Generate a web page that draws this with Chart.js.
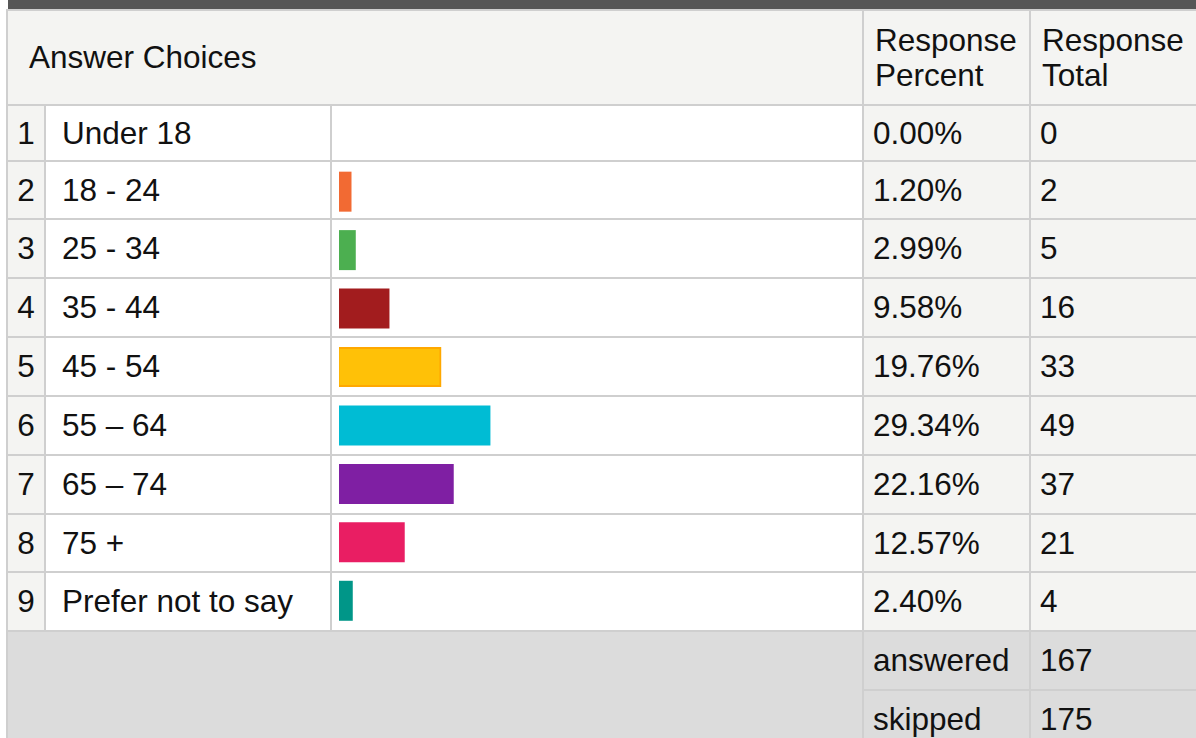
<!DOCTYPE html>
<html>
<head>
<meta charset="utf-8">
<script src="https://cdn.jsdelivr.net/npm/chart.js@4/dist/chart.umd.min.js"></script>
<style>
  html, body { margin: 0; padding: 0; background: #fff; overflow: hidden; }
  body { width: 1196px; height: 738px; position: relative; font-family: Arial, "Liberation Sans", Helvetica, sans-serif; color: #111; }
  #topbar { position: absolute; left: 8px; top: 0; width: 1188px; height: 9px; background: #565656; }
  table { position: absolute; left: 6px; top: 9px; width: 1200px; border-collapse: collapse; table-layout: fixed; font-size: 31.5px; }
  td { border: 2px solid #cfcfcf; padding: 0; vertical-align: middle; white-space: nowrap; overflow: hidden; }
  .hd { background: #f4f4f2; }
  .hd .choices { padding-left: 21px; }
  .hd .resp { padding-left: 11px; line-height: 35px; }
  .num { background: #f4f4f2; text-align: center; }
  .lab { background: #fff; padding-left: 16px; }
  .bar { background: #fff; }
  .pct, .tot { background: #f4f4f2; padding-left: 9px; }
  .foot td { background: #dcdcdc; }
  .foot .pct, .foot .tot { padding-left: 9px; }
  #wrap { position: absolute; left: 331px; top: 104px; width: 532px; height: 526px; }
</style>
</head>
<body>
<div id="topbar"></div>
<table id="tbl">
  <colgroup>
    <col style="width:38px"><col style="width:286px"><col style="width:532px"><col style="width:167px"><col style="width:177px">
  </colgroup>
  <tbody id="tbody">
    <tr class="hd" style="height:95px">
      <td colspan="3" class="choices">Answer Choices</td>
      <td class="resp">Response<br>Percent</td>
      <td class="resp">Response<br>Total</td>
    </tr>
  </tbody>
</table>
<div id="wrap"><canvas id="bars" width="532" height="526"></canvas></div>
<script>
// survey data
const choices = ['Under 18', '18 - 24', '25 - 34', '35 - 44', '45 - 54', '55 \u2013 64', '65 \u2013 74', '75 +', 'Prefer not to say'];
const percents = [0.00, 1.20, 2.99, 9.58, 19.76, 29.34, 22.16, 12.57, 2.40];
const totals = [0, 2, 5, 16, 33, 49, 37, 21, 4];
const answered = 167;
const skipped = 175;

// looks
const barColors = ['#9e9e9e', '#f26a33', '#4caf50', '#a21c1e', '#ffc107', '#00bcd4', '#7f1fa3', '#e91e63', '#009688'];
const barBorders = ['#9e9e9e', '#f26a33', '#4caf50', '#a21c1e', '#ffa800', '#00bcd4', '#7f1fa3', '#e91e63', '#009688'];
const barBorderW = [0, 0, 0, 0, 2, 0, 0, 0, 0];
const rowHeights = [56, 58, 59, 59, 59, 59, 59, 58, 59];

let tbody = document.getElementById('tbody');
choices.forEach((c, i) => {
  let tr = document.createElement('tr');
  tr.style.height = rowHeights[i] + 'px';
  tr.innerHTML = '<td class="num">' + (i + 1) + '</td>' +
    '<td class="lab">' + c + '</td>' +
    '<td class="bar"></td>' +
    '<td class="pct">' + percents[i].toFixed(2) + '%</td>' +
    '<td class="tot">' + totals[i] + '</td>';
  tbody.appendChild(tr);
});
let f1 = document.createElement('tr');
f1.className = 'foot';
f1.style.height = '59px';
f1.innerHTML = '<td colspan="3" rowspan="2"></td><td class="pct">answered</td><td class="tot">' + answered + '</td>';
tbody.appendChild(f1);
let f2 = document.createElement('tr');
f2.className = 'foot';
f2.style.height = '59px';
f2.innerHTML = '<td class="pct">skipped</td><td class="tot">' + skipped + '</td>';
tbody.appendChild(f2);

let ctx = document.getElementById('bars').getContext('2d');
let myChart = new Chart(ctx, {
  type: 'bar',
  data: {
    labels: choices,
    datasets: [{
      data: percents.map(v => v > 0 ? v : null),
      backgroundColor: barColors,
      borderColor: barBorders,
      borderWidth: barBorderW,
      borderSkipped: false,
      barThickness: 37,
      minBarLength: 11,
      inflateAmount: 1.5
    }]
  },
  options: {
    indexAxis: 'y',
    responsive: false,
    animation: false,
    layout: { padding: { left: 8, right: 13, top: 0, bottom: 0 } },
    plugins: { legend: { display: false }, tooltip: { enabled: false } },
    scales: {
      x: { display: false, min: 0, max: 100 },
      y: { display: false }
    }
  }
});
</script>
</body>
</html>
